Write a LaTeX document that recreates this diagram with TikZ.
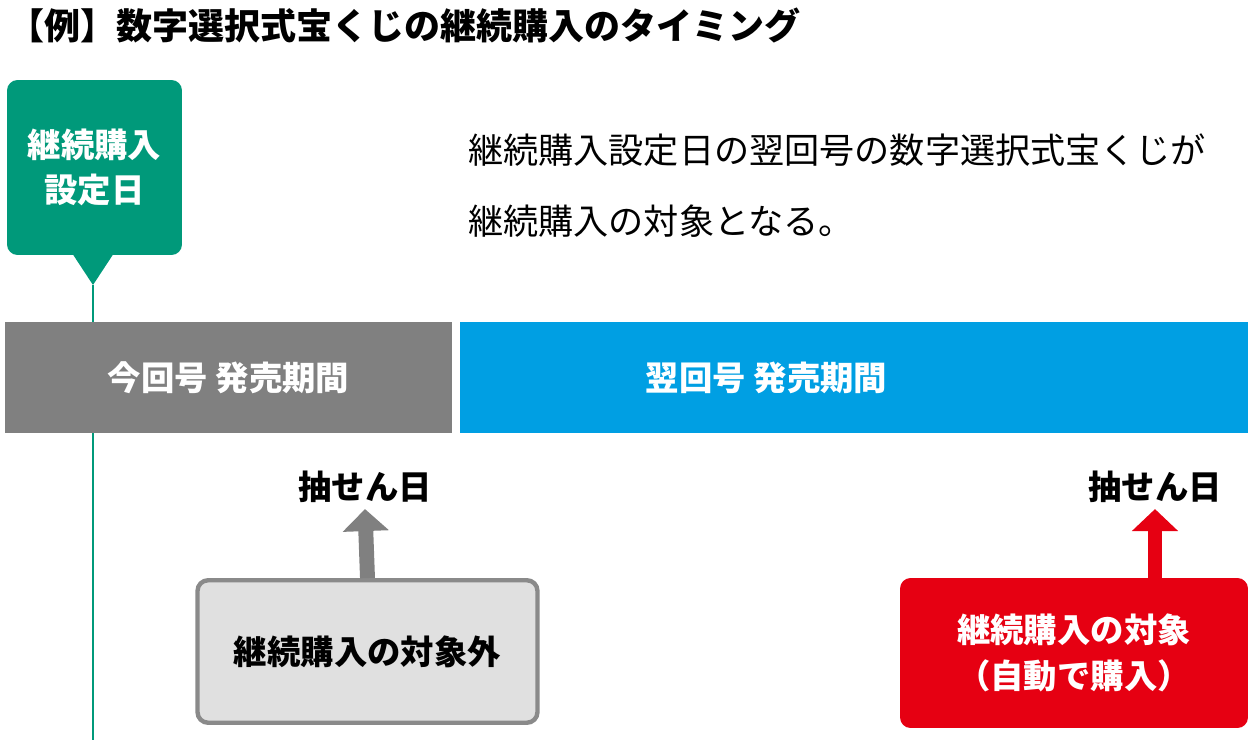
\documentclass[tikz,border=0pt]{standalone}
\usepackage{fontspec}
\setmainfont{Noto Sans CJK JP}
\usetikzlibrary{arrows.meta,positioning}
\definecolor{setgreen}{HTML}{00997A}
\definecolor{nowgray}{HTML}{808080}
\definecolor{nextblue}{HTML}{009FE3}
\definecolor{outgray}{HTML}{E0E0E0}
\definecolor{outline}{HTML}{8A8A8A}
\definecolor{buyred}{HTML}{E60012}
\tikzset{
  bar/.style = {minimum height = 2.22cm, text = white, font = \fontsize{19}{22}\selectfont\bfseries},
  box/.style = {rounded corners = 6pt, align = center, font = \fontsize{19}{26}\selectfont\bfseries},
  upto/.style = {line width = 8.5pt, -{Triangle[width = 0.9cm, length = 0.44cm]}}
}
\begin{document}
\begin{tikzpicture}[x=0.02cm, y=-0.02cm]
  \useasboundingbox (0,0) rectangle (1248,740);
  %Title
  \node [anchor = west, font = \fontsize{20.5}{24}\selectfont\bfseries]
  (title)at(2,25){【例】数字選択式宝くじの継続購入のタイミング};
  %Setting day
  \fill [setgreen] (70,250) -- (93,285) -- (116,250) -- cycle;
  \node [box, fill = setgreen, text = white, minimum width = 3.5cm, minimum height = 3.5cm]
  (set)at(94.5,167.5){継続購入\\設定日};
  \coordinate (tip) at (93,285);
  \coordinate (bottom) at (93,740);
  \draw [setgreen, line width = 1.6pt] (tip) -- (bottom);
  %Note
  \node [anchor = north west, align = left, font = \fontsize{20}{40}\selectfont]
  (note)at(462,128){継続購入設定日の翌回号の数字選択式宝くじが\\継続購入の対象となる。};
  %Sales periods
  \node [bar, fill = nowgray, minimum width = 8.94cm]
  (now)at(228.5,377.5){今回号\ 発売期間};
  \node [bar, fill = nextblue, minimum width = 15.76cm]
  (next)at(854,377.5){\hspace*{-3.5cm}翌回号\ 発売期間};
  %Draw days
  \node [font = \fontsize{19}{22}\selectfont\bfseries]
  (draw1)at(365,487){抽せん日};
  \node [font = \fontsize{19}{22}\selectfont\bfseries]
  (draw2)at(1155,487){抽せん日};
  %Result boxes
  \node [box, draw = outline, line width = 2.5pt, fill = outgray, minimum width = 6.8cm, minimum height = 2.85cm]
  (out)at(367.5,651.5){継続購入の対象外};
  \node [box, fill = buyred, text = white, minimum width = 6.96cm, minimum height = 3cm]
  (buy)at(1074,653){継続購入の対象\\（自動で購入）};
  \draw [upto, nowgray] (out.north) -- (draw1.south);
  \draw [upto, buyred] (buy.north -| draw2) -- (draw2.south);
\end{tikzpicture}
\end{document}
